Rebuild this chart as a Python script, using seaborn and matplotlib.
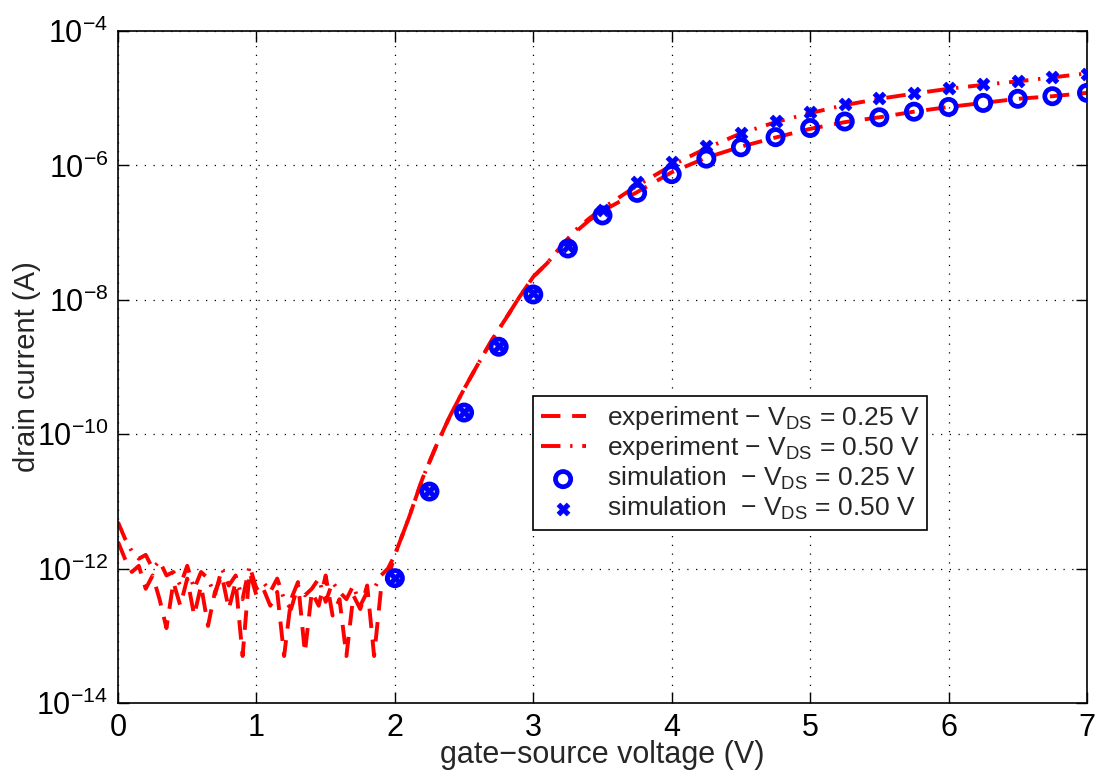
import numpy as np
import matplotlib
matplotlib.use("Agg")
import matplotlib.pyplot as plt
import matplotlib.ticker as mticker
import seaborn as sns

# gate-source voltage grid of the measured curves
vgs_exp = [0.00, 0.05, 0.10, 0.15, 0.20, 0.25, 0.30, 0.35, 0.40, 0.45,
           0.50, 0.55, 0.60, 0.65, 0.70, 0.75, 0.80, 0.85, 0.90, 0.95,
           1.00, 1.05, 1.10, 1.15, 1.20, 1.25, 1.30, 1.35, 1.40, 1.45,
           1.50, 1.55, 1.60, 1.65, 1.70, 1.75, 1.80, 1.85, 1.90, 1.95,
           2.00, 2.10, 2.20, 2.30, 2.40, 2.50, 2.60, 2.70, 2.80, 2.90,
           3.00, 3.10, 3.20, 3.30, 3.40, 3.50, 3.75, 4.00, 4.25, 4.50,
           4.75, 5.00, 5.25, 5.50, 5.75, 6.00, 6.25, 6.50, 6.75, 7.00]

# experiment, VDS = 0.25 V
id_exp_025 = [2.5e-12, 1.4e-12, 8.9e-13, 1.1e-12, 5.0e-13, 7.9e-13, 3.5e-13, 1.3e-13, 6.3e-13, 2.8e-13,
              7.1e-13, 2.0e-13, 5.6e-13, 1.4e-13, 4.5e-13, 7.9e-13, 2.5e-13, 6.3e-13, 5.0e-14, 8.9e-13,
              4.0e-13, 5.0e-13, 2.8e-13, 4.5e-13, 5.0e-14, 3.5e-13, 6.3e-13, 5.6e-14, 4.5e-13, 2.8e-13,
              7.9e-13, 2.0e-13, 3.5e-13, 5.0e-14, 4.0e-13, 2.5e-13, 5.6e-13, 5.0e-14, 5.0e-13, 7.1e-13,
              1.6e-12, 5.6e-12, 2.2e-11, 6.8e-11, 1.9e-10, 4.7e-10, 1.1e-9, 2.5e-9, 5.2e-9, 1.1e-8,
              2.2e-8, 3.5e-8, 6.2e-8, 1.0e-7, 1.5e-7, 2.1e-7, 4.0e-7, 7.9e-7, 1.3e-6, 1.9e-6,
              2.6e-6, 3.5e-6, 4.4e-6, 5.2e-6, 6.3e-6, 7.4e-6, 8.5e-6, 9.8e-6, 1.07e-5, 1.2e-5]

# experiment, VDS = 0.50 V
id_exp_050 = [4.9e-12, 2.8e-12, 1.8e-12, 1.4e-12, 1.6e-12, 1.0e-12, 1.3e-12, 7.9e-13, 8.9e-13, 5.6e-13,
              1.1e-12, 5.0e-13, 8.9e-13, 7.1e-13, 4.0e-13, 1.0e-12, 5.6e-13, 7.9e-13, 3.5e-13, 1.1e-12,
              5.0e-13, 6.3e-13, 4.5e-13, 7.1e-13, 3.5e-13, 2.5e-13, 5.6e-13, 4.0e-13, 5.0e-13, 7.1e-13,
              3.2e-13, 6.3e-13, 4.5e-13, 3.5e-13, 5.6e-13, 2.8e-13, 4.5e-13, 5.0e-13, 7.9e-13, 1.0e-12,
              1.6e-12, 5.6e-12, 2.2e-11, 6.8e-11, 1.9e-10, 4.7e-10, 1.1e-9, 2.5e-9, 5.2e-9, 1.1e-8,
              2.2e-8, 3.5e-8, 6.2e-8, 1.07e-7, 1.6e-7, 2.3e-7, 5.0e-7, 1.0e-6, 1.8e-6, 3.0e-6,
              4.4e-6, 6.0e-6, 7.9e-6, 9.8e-6, 1.17e-5, 1.38e-5, 1.58e-5, 1.78e-5, 2.04e-5, 2.34e-5]

# simulation points
vgs_sim = [2.00, 2.25, 2.50, 2.75, 3.00, 3.25, 3.50, 3.75, 4.00, 4.25, 4.50,
           4.75, 5.00, 5.25, 5.50, 5.75, 6.00, 6.25, 6.50, 6.75, 7.00]
id_sim_025 = [7.2e-13, 1.4e-11, 2.1e-10, 2.0e-9, 1.2e-8, 5.8e-8, 1.8e-7, 3.9e-7, 7.4e-7, 1.26e-6, 1.86e-6,
              2.63e-6, 3.6e-6, 4.5e-6, 5.2e-6, 6.3e-6, 7.4e-6, 8.5e-6, 9.8e-6, 1.07e-5, 1.2e-5]
id_sim_050 = [7.2e-13, 1.45e-11, 2.15e-10, 2.05e-9, 1.25e-8, 6.3e-8, 2.2e-7, 5.6e-7, 1.12e-6, 1.95e-6, 3.0e-6,
              4.6e-6, 6.3e-6, 8.1e-6, 1.0e-5, 1.2e-5, 1.41e-5, 1.62e-5, 1.82e-5, 2.09e-5, 2.3e-5]

x_ticks = [0, 1, 2, 3, 4, 5, 6, 7]
y_ticks = [1e-14, 1e-12, 1e-10, 1e-8, 1e-6, 1e-4]

sns.set_style("ticks")
plt.rcParams["font.family"] = ["Liberation Sans", "DejaVu Sans"]
plt.rcParams["mathtext.fontset"] = "custom"
plt.rcParams["mathtext.rm"] = "Liberation Sans"
plt.rcParams["mathtext.it"] = "Liberation Sans:italic"
plt.rcParams["mathtext.default"] = "regular"

fig = plt.figure(figsize=(11.04, 7.73), dpi=100)
ax = fig.add_axes([0.1069, 0.0906, 0.8777, 0.8693])

sns.lineplot(x=vgs_exp, y=id_exp_025, ax=ax, color="red", linewidth=2.8,
             linestyle=(0, (5, 3)), sort=False, estimator=None,
             label="experiment \u2212 V$_{DS}$ = 0.25 V")
sns.lineplot(x=vgs_exp, y=id_exp_050, ax=ax, color="red", linewidth=2.8,
             linestyle=(0, (5, 2.5, 0.6, 2.5)), sort=False, estimator=None,
             label="experiment \u2212 V$_{DS}$ = 0.50 V")
sns.scatterplot(x=vgs_sim, y=id_sim_025, ax=ax, marker="o", s=120,
                facecolor="none", edgecolor="blue", linewidth=3.4, zorder=5,
                label="simulation  \u2212 V$_{DS}$ = 0.25 V")
sns.scatterplot(x=vgs_sim, y=id_sim_050, ax=ax, marker="X", s=85,
                color="blue", edgecolor="blue", linewidth=0.5, zorder=5,
                label="simulation  \u2212 V$_{DS}$ = 0.50 V")

ax.set_yscale("log")
ax.set_xlim(0, 7)
ax.set_ylim(1e-14, 1e-4)
ax.set_xticks(x_ticks)
ax.set_yticks(y_ticks)
ax.yaxis.set_minor_locator(mticker.NullLocator())
ax.yaxis.set_major_formatter(mticker.LogFormatterSciNotation())
ax.grid(True, which="major", color="black", linestyle=(0, (1, 6)), linewidth=0.9)
ax.tick_params(direction="in", length=8, width=1, top=True, right=True,
               labelsize=22, pad=7, colors="black")
for sp in ax.spines.values():
    sp.set_linewidth(1.2)
    sp.set_color("black")

ax.set_xlabel("gate\u2212source voltage (V)", fontsize=22, labelpad=-2)
ax.set_ylabel("drain current (A)", fontsize=21, labelpad=-3)

leg = ax.legend(loc="upper left", bbox_to_anchor=(0.428, 0.457), borderaxespad=0,
                fontsize=19, frameon=True, fancybox=False, framealpha=1,
                edgecolor="black", handlelength=1.7, labelspacing=0.1,
                borderpad=0.3, handletextpad=0.8)
leg.get_frame().set_linewidth(1.2)

plt.savefig("out.png", dpi=100)
